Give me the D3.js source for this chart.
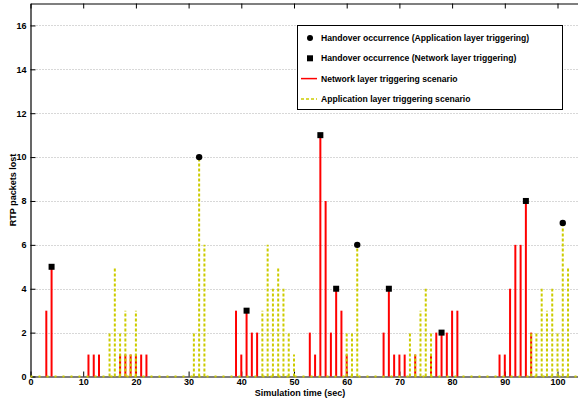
<!DOCTYPE html>
<html lang="en">
<head>
<meta charset="UTF-8">
<title>RTP packets lost</title>
<script src="https://d3js.org/d3.v7.min.js"></script>
<style>
    body { margin: 0; background: #fff; }
    svg { font-family: "Liberation Sans", Arial, sans-serif; font-weight: bold; }
    .tick text { font-size: 9px; font-weight: bold; }
</style>
</head>
<body>
<div id="chart"></div>
<script>
// network layer triggering scenario (red, solid stems): [time, packets]
const networkData = [
    [3, 3], [4, 5], [11, 1], [12, 1], [13, 1], [17, 1], [18, 1], [19, 1], [20, 1], [21, 1], [22, 1],
    [39, 3], [40, 1], [41, 3], [42, 2], [43, 2], [53, 2], [54, 1], [55, 11], [56, 8], [57, 2],
    [58, 4], [59, 3], [60, 1], [67, 2], [68, 4], [69, 1], [70, 1], [71, 1], [73, 1], [76, 1],
    [77, 2], [78, 2], [79, 2], [80, 3], [81, 3], [89, 1], [90, 1], [91, 4], [92, 6], [93, 6],
    [94, 8], [95, 2]
];
// application layer triggering scenario (yellow, dotted stems)
const appData = [
    [15, 2], [16, 5], [17, 2], [18, 3], [19, 1], [20, 3], [31, 2], [32, 10], [33, 6],
    [44, 3], [45, 6], [46, 4], [47, 5], [48, 4], [49, 2], [50, 1], [60, 2], [61, 2], [62, 6],
    [72, 2], [73, 1], [74, 3], [75, 4], [76, 2], [95, 2], [96, 2], [97, 4], [98, 3], [99, 4],
    [100, 2], [101, 7], [102, 5]
];
// handover points
const appHandovers = [[32, 10], [62, 6], [101, 7]];
const netHandovers = [[4, 5], [41, 3], [55, 11], [58, 4], [68, 4], [78, 2], [94, 8]];

const xTicks = [0, 10, 20, 30, 40, 50, 60, 70, 80, 90, 100];
const yTicks = [0, 2, 4, 6, 8, 10, 12, 14, 16];

const legendItems = [
    { label: "Handover occurrence (Application layer triggering)", type: "circle" },
    { label: "Handover occurrence (Network layer triggering)", type: "square" },
    { label: "Network layer triggering scenario", type: "red" },
    { label: "Application layer triggering scenario", type: "yellow" }
];

const width = 578, height = 404;
const plotLeft = 30.5, plotTop = 3.5, plotBottom = 376.5;
const red = "#ff0000", yellow = "#cccc00";

const svg = d3.select("#chart").append("svg")
    .attr("width", width)
    .attr("height", height);

const x = d3.scaleLinear().domain([0, 105]).range([plotLeft, plotLeft + 5.27 * 105]);
const y = d3.scaleLinear().domain([0, 17]).range([plotBottom, plotTop]);

// horizontal dotted grid
svg.append("g").selectAll("line")
    .data(yTicks.filter(d => d > 0))
    .enter().append("line")
    .attr("x1", plotLeft).attr("x2", width)
    .attr("y1", d => Math.round(y(d)) + 0.5).attr("y2", d => Math.round(y(d)) + 0.5)
    .attr("stroke", "#b0b0b0")
    .attr("stroke-width", 1)
    .attr("stroke-dasharray", "1,2");

// axes with inward ticks
const xAxis = svg.append("g")
    .attr("transform", `translate(0,${plotBottom})`)
    .call(d3.axisBottom(x).tickValues(xTicks).tickSizeInner(-5).tickSizeOuter(0).tickPadding(2));
const xAxisTop = svg.append("g")
    .attr("transform", `translate(0,${plotTop})`)
    .call(d3.axisTop(x).tickValues(xTicks).tickSizeInner(-5).tickSizeOuter(0).tickFormat(""));
const yAxis = svg.append("g")
    .attr("transform", `translate(${plotLeft},0)`)
    .call(d3.axisLeft(y).tickValues(yTicks).tickSizeInner(-5).tickSizeOuter(0).tickPadding(4));

[xAxis, xAxisTop, yAxis].forEach(g => {
    g.select(".domain").attr("stroke", "#000").attr("stroke-width", 1.2);
    g.selectAll(".tick line").attr("stroke", "#000");
    g.selectAll(".tick text").attr("fill", "#000");
});
xAxis.selectAll(".tick text").attr("dy", "0.71em");

// network stems (solid red)
svg.append("g").selectAll("line")
    .data(networkData)
    .enter().append("line")
    .attr("x1", d => x(d[0])).attr("x2", d => x(d[0]))
    .attr("y1", y(0)).attr("y2", d => y(d[1]))
    .attr("stroke", red)
    .attr("stroke-width", 2);

// application stems (dotted yellow)
svg.append("g").selectAll("line")
    .data(appData)
    .enter().append("line")
    .attr("x1", d => x(d[0])).attr("x2", d => x(d[0]))
    .attr("y1", y(0)).attr("y2", d => y(d[1]))
    .attr("stroke", yellow)
    .attr("stroke-width", 2)
    .attr("stroke-dasharray", "3,2");

// baseline
svg.append("line")
    .attr("x1", plotLeft).attr("x2", width)
    .attr("y1", y(0)).attr("y2", y(0))
    .attr("stroke", yellow)
    .attr("stroke-width", 2)
    .attr("stroke-dasharray", "2,6");

// handover markers
svg.append("g").selectAll("circle")
    .data(appHandovers)
    .enter().append("circle")
    .attr("cx", d => x(d[0])).attr("cy", d => y(d[1]))
    .attr("r", 3.2)
    .attr("fill", "#000");

svg.append("g").selectAll("rect")
    .data(netHandovers)
    .enter().append("rect")
    .attr("x", d => x(d[0]) - 3).attr("y", d => y(d[1]) - 3)
    .attr("width", 6).attr("height", 6)
    .attr("fill", "#000");

// axis titles
svg.append("text")
    .attr("x", 300).attr("y", 396)
    .attr("text-anchor", "middle")
    .attr("font-size", 9)
    .text("Simulation time (sec)");

svg.append("text")
    .attr("transform", "translate(16,190) rotate(-90)")
    .attr("text-anchor", "middle")
    .attr("font-size", 9)
    .text("RTP packets lost");

// legend
const legend = svg.append("g").attr("transform", "translate(297,25)");
legend.append("rect")
    .attr("x", 0.5).attr("y", 0.5)
    .attr("width", 265).attr("height", 84)
    .attr("fill", "#fff")
    .attr("stroke", "#000")
    .attr("stroke-width", 1);

const item = legend.selectAll(".item")
    .data(legendItems)
    .enter().append("g")
    .attr("class", "item")
    .attr("transform", (d, i) => `translate(0,${13 + i * 20.3})`);

item.append("text")
    .attr("x", 24).attr("y", 3)
    .attr("font-size", 8.6)
    .text(d => d.label);

item.filter(d => d.type === "circle").append("circle")
    .attr("cx", 13).attr("cy", 0).attr("r", 3).attr("fill", "#000");
item.filter(d => d.type === "square").append("rect")
    .attr("x", 10).attr("y", -3).attr("width", 6).attr("height", 6).attr("fill", "#000");
item.filter(d => d.type === "red").append("line")
    .attr("x1", 4).attr("x2", 20).attr("y1", 0).attr("y2", 0)
    .attr("stroke", red).attr("stroke-width", 1.5);
item.filter(d => d.type === "yellow").append("line")
    .attr("x1", 4).attr("x2", 20).attr("y1", 0).attr("y2", 0)
    .attr("stroke", yellow).attr("stroke-width", 1.5).attr("stroke-dasharray", "3,2");
</script>
</body>
</html>
